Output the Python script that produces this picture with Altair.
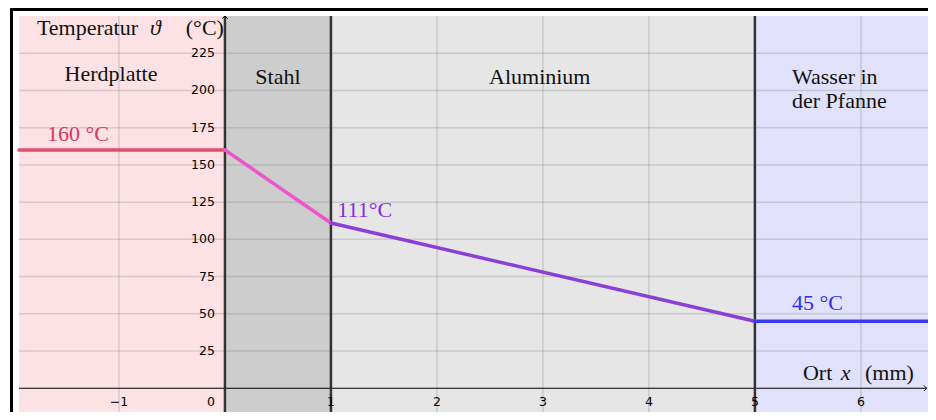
import altair as alt
import pandas as pd

# ---- scale extents (data units) ----
X_MIN, X_MAX = -1.943, 6.633
Y_MIN, Y_MAX = -15.95, 250

# ---- regions ----
region_names = ["Herdplatte", "Stahl", "Aluminium", "Wasser"]
region_x0 = [X_MIN, 0, 1, 5]
region_x1 = [0, 1, 5, X_MAX]
region_colors = ["#fde2e5", "#cdcdcd", "#e6e6e6", "#e1e1fb"]

# ---- temperature profile ----
prof_x = [X_MIN, 0, 1, 5, X_MAX]
prof_y = [160, 160, 111, 45, 45]
seg_colors = ["#e0506e", "#ee55cc", "#8a3fd8", "#3a3af0"]

# ---- dividers ----
divider_x = [0, 1, 5]

# ---- ticks ----
y_ticks = [25, 50, 75, 100, 125, 150, 175, 200, 225]
x_ticks = [-1, 1, 2, 3, 4, 5, 6]
x_grid = [-1, 1, 2, 3, 4, 6]
y_grid = [25, 50, 75, 100, 125, 150, 175, 200, 225]

# ---- labels ----
labels_center = pd.DataFrame({
    "x": [-1.075, 0.5, 2.97],
    "y": [211, 209, 209],
    "t": ["Herdplatte", "Stahl", "Aluminium"],
})
labels_left = pd.DataFrame({
    "x": [5.35, 5.35],
    "y": [209, 193],
    "t": ["Wasser in", "der Pfanne"],
})
temp_labels = pd.DataFrame({
    "x": [-1.68, 1.06, 5.35],
    "y": [170.5, 120, 57],
    "t": ["160 °C", "111°C", "45 °C"],
    "c": ["#d9365f", "#8a2be2", "#3030e8"],
})
title_left = pd.DataFrame({
    "x": [-1.774, 5.453],
    "y": [241.8, 10.1],
    "t": ["Temperatur", "Ort"],
})
title_right = pd.DataFrame({
    "x": [-0.01, 6.5],
    "y": [241.8, 10.1],
    "t": ["(°C)", "(mm)"],
})
title_italic = pd.DataFrame({
    "x": [-0.708, 5.811],
    "y": [241.8, 10.1],
    "t": ["ϑ", "x"],
})

SERIF = "Liberation Serif"
FS = 22

xs = alt.Scale(domain=[X_MIN, X_MAX], nice=False, zero=False)
ys = alt.Scale(domain=[Y_MIN, Y_MAX], nice=False, zero=False)
X = lambda f: alt.X(f, type="quantitative", scale=xs, axis=None)
Y = lambda f: alt.Y(f, type="quantitative", scale=ys, axis=None)

reg_df = pd.DataFrame({"n": region_names, "x0": region_x0, "x1": region_x1,
                       "c": region_colors, "y0": [Y_MIN] * 4, "y1": [Y_MAX] * 4})
regions = alt.Chart(reg_df).mark_rect().encode(
    x=X("x0"), x2="x1", y=Y("y0"), y2="y1",
    color=alt.Color("c:N", scale=None))

gx = pd.DataFrame({"x": x_grid})
grid_x = alt.Chart(gx).mark_rule(color="#808080", opacity=0.28, strokeWidth=1.5).encode(
    x=X("x"), y=alt.value(0), y2=alt.value(396))
gy = pd.DataFrame({"y": y_grid})
grid_y = alt.Chart(gy).mark_rule(color="#808080", opacity=0.28, strokeWidth=1.5).encode(
    y=Y("y"), x=alt.value(0), x2=alt.value(909))

dv = pd.DataFrame({"x": divider_x})
dividers = alt.Chart(dv).mark_rule(color="#333333", strokeWidth=2.5).encode(
    x=X("x"), y=alt.value(0), y2=alt.value(396))

xaxis_df = pd.DataFrame({"x0": [X_MIN], "x1": [6.62], "y": [0]})
xaxis = alt.Chart(xaxis_df).mark_rule(color="#000000", strokeWidth=1).encode(
    x=X("x0"), x2="x1", y=Y("y"))

arrow_r = alt.Chart(pd.DataFrame({"x": [6.62], "y": [0]})).mark_point(
    shape="M -1 -1 L 0 0 L -1 1", filled=False, stroke="#000000", strokeWidth=1,
    size=30, opacity=1).encode(x=X("x"), y=Y("y"))
arrow_u = alt.Chart(pd.DataFrame({"x": [0], "y": [Y_MAX]})).mark_point(
    shape="M -1 1 L 0 0 L 1 1", filled=False, stroke="#000000", strokeWidth=1,
    size=30, opacity=1).encode(x=X("x"), y=Y("y"))

seg_df = pd.DataFrame({"x0": prof_x[:-1], "x1": prof_x[1:], "y0": prof_y[:-1],
                       "y1": prof_y[1:], "c": seg_colors})
segments = alt.Chart(seg_df).mark_rule(strokeWidth=3.5, strokeCap="round").encode(
    x=X("x0"), x2="x1", y=Y("y0"), y2="y1", color=alt.Color("c:N", scale=None))

yt = pd.DataFrame({"y": y_ticks, "t": [str(v) for v in y_ticks], "x": [0] * len(y_ticks)})
ytext = alt.Chart(yt).mark_text(align="right", baseline="middle", dx=-10, dy=0,
                                font="DejaVu Sans", fontSize=12.5, color="#000000").encode(
    x=X("x"), y=Y("y"), text="t:N")

xt = pd.DataFrame({"x": x_ticks, "t": ["−1" if v < 0 else str(v) for v in x_ticks]})
xtext = alt.Chart(xt).mark_text(align="center", baseline="middle", dy=14,
                                font="DejaVu Sans", fontSize=12.5, color="#000000").encode(
    x=X("x"), y=alt.value(372.2), text="t:N")
zero_text = alt.Chart(pd.DataFrame({"x": [0], "t": ["0"]})).mark_text(
    align="center", baseline="middle", dx=-14, dy=14, font="DejaVu Sans",
    fontSize=12.5, color="#000000").encode(x=X("x"), y=alt.value(372.2), text="t:N")

lab_c = alt.Chart(labels_center).mark_text(align="center", baseline="middle",
                                           font=SERIF, fontSize=FS, color="#111111").encode(
    x=X("x"), y=Y("y"), text="t:N")
lab_l = alt.Chart(labels_left).mark_text(align="left", baseline="middle",
                                         font=SERIF, fontSize=FS, color="#111111").encode(
    x=X("x"), y=Y("y"), text="t:N")
tlab = alt.Chart(temp_labels).mark_text(align="left", baseline="middle",
                                        font=SERIF, fontSize=FS).encode(
    x=X("x"), y=Y("y"), text="t:N", color=alt.Color("c:N", scale=None))
atitle_l = alt.Chart(title_left).mark_text(align="left", baseline="middle",
                                           font=SERIF, fontSize=FS, color="#111111").encode(
    x=X("x"), y=Y("y"), text="t:N")
atitle_r = alt.Chart(title_right).mark_text(align="right", baseline="middle",
                                            font=SERIF, fontSize=FS, color="#111111").encode(
    x=X("x"), y=Y("y"), text="t:N")
atitle_i = alt.Chart(title_italic).mark_text(align="left", baseline="middle", fontStyle="italic",
                                             font=SERIF, fontSize=FS, color="#111111").encode(
    x=X("x"), y=Y("y"), text="t:N")

frame_top = alt.Chart(pd.DataFrame({"a": [0]})).mark_rule(color="#000000", strokeWidth=3).encode(
    x=alt.value(-9), x2=alt.value(909), y=alt.value(-6.5))
frame_left = alt.Chart(pd.DataFrame({"a": [0]})).mark_rule(color="#000000", strokeWidth=3).encode(
    x=alt.value(-7.5), y=alt.value(-8), y2=alt.value(396))

chart = alt.layer(
    regions, grid_x, grid_y, xaxis, dividers, arrow_r, arrow_u, segments,
    ytext, xtext, zero_text, lab_c, lab_l, tlab, atitle_l, atitle_r, atitle_i,
    frame_top, frame_left
).properties(
    width=909, height=396,
    autosize=alt.AutoSizeParams(type="none"),
    padding={"left": 11, "top": 8, "right": 0, "bottom": 0},
    background="#ffffff",
).configure_view(stroke=None)

chart.save("out.html", embed_options={"renderer": "svg", "actions": False})
